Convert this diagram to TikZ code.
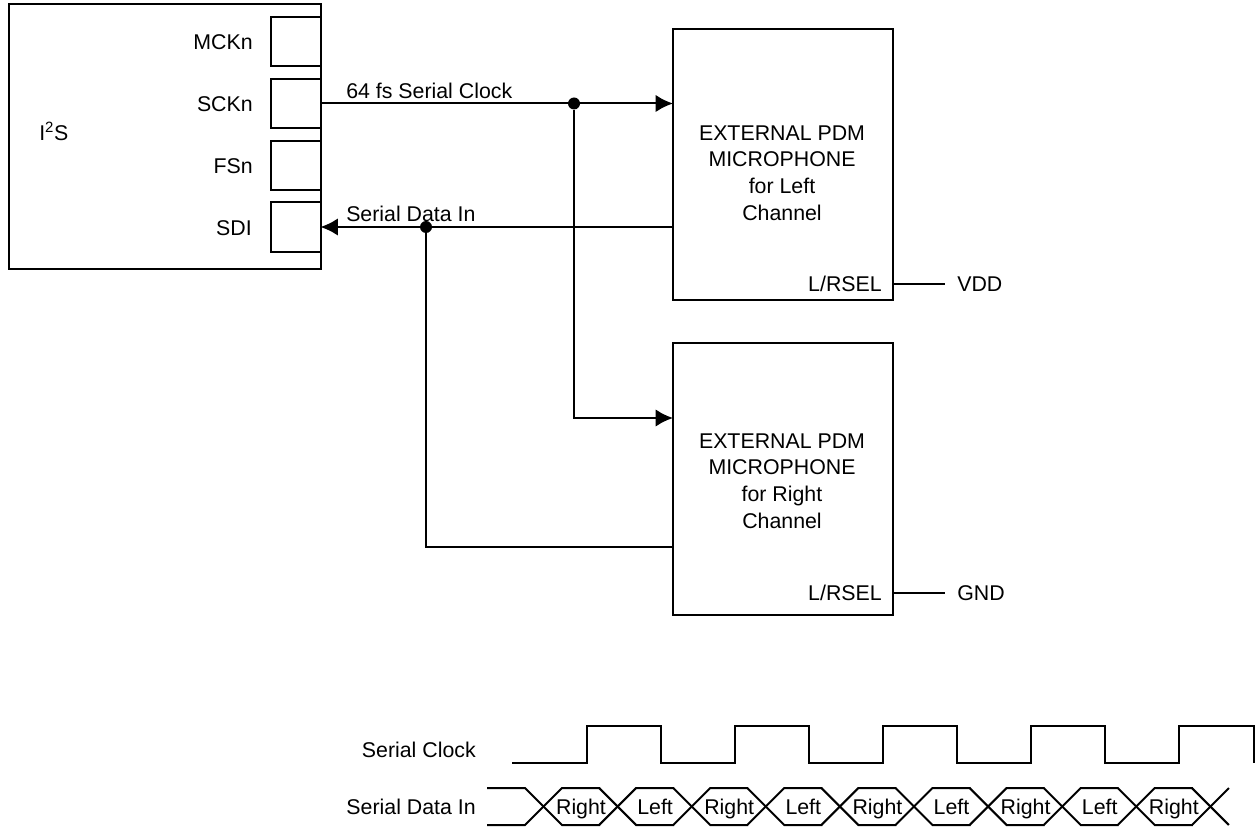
\documentclass[tikz,border=0pt]{standalone}
\usepackage{fontspec}
\setmainfont{Liberation Sans}
\usetikzlibrary{arrows.meta,positioning}

\begin{document}
\begin{tikzpicture}[
  x=0.75pt, y=-0.75pt,
  every node/.style={font=\fontsize{16}{20}\selectfont},
  lbl/.style={inner sep=0pt, text height=11.5pt, text depth=0pt},
  blk/.style={draw, line width=1.5pt, inner sep=0pt, outer sep=0pt},
  port/.style={blk, minimum width=37.5pt, minimum height=37pt},
  micbox/.style={blk, align=center, minimum width=165pt, minimum height=203.5pt},
  wire/.style={line width=1.5pt},
  edg/.style={wire, -{Latex[length=13pt, width=13pt]}},
  jdot/.style={circle, fill=black, minimum size=9pt, inner sep=0pt},
  wave/.style={line width=1.5pt, line join=miter}
]
\useasboundingbox (0,0) rectangle (1257,827);
\node[blk, minimum width=234pt, minimum height=198.75pt] (I2S) at (164.5,137) {};
\node[lbl, anchor=west] (I2Slbl) at (39,133) {I\textsuperscript{2}S};
\node[port] (MCK) at (295.5,41.5) {};
\node[port] (SCK) at (295.5,103.5) {};
\node[port] (FS) at (295.5,165.5) {};
\node[port] (SDI) at (295.5,227) {};
\node[lbl, anchor=east] (MCKlbl) at (253,42) {MCKn};
\node[lbl, anchor=east] (SCKlbl) at (253,104) {SCKn};
\node[lbl, anchor=east] (FSlbl) at (253,166) {FSn};
\node[lbl, anchor=east] (SDIlbl) at (252,228) {SDI};
\node[micbox] (MicL) at (783,164.5) {};
\node[micbox] (MicR) at (783,479) {};
\node[inner sep=0pt, align=center] (MicLlbl) at (782,173) {EXTERNAL PDM\\MICROPHONE\\for Left\\Channel};
\node[inner sep=0pt, align=center] (MicRlbl) at (782,481) {EXTERNAL PDM\\MICROPHONE\\for Right\\Channel};
\node[lbl, anchor=east] (SelL) at (882,284) {L/RSEL};
\node[lbl, anchor=east] (SelR) at (882,593) {L/RSEL};
\node[lbl, anchor=west] (VDD) at (957,284) {VDD};
\node[lbl, anchor=west] (GND) at (957,593) {GND};
\node[lbl, anchor=west] (ClkLbl) at (346,91) {64 fs Serial Clock};
\node[lbl, anchor=west] (DataLbl) at (346,214) {Serial Data In};
\node[jdot] (ClkDot) at (574,103.5) {};
\node[jdot] (DataDot) at (426,227) {};
\coordinate (ClkIn) at (MicR.west |- 0,418);
\coordinate (DataOut) at (MicR.west |- 0,547);
\draw[edg] (SCK.east) -- (SCK.east -| MicL.west);
\draw[edg] (SDI.east -| MicL.west) -- (SDI.east);
\draw[edg] (ClkDot) |- (ClkIn);
\draw[wire] (DataDot) |- (DataOut);
\draw[wire] (MicL.east |- SelL) -- (945,284);
\draw[wire] (MicR.east |- SelR) -- (945,593);
% timing
\node[lbl, anchor=east] (ClkName) at (476,750) {Serial Clock};
\node[lbl, anchor=east] (DataName) at (476,807) {Serial Data In};
\draw[wave] (512,763) -- (586.5,763)
  \foreach \xa in {0,...,3} {
    -- ++(0,-37) -- ++(74.2,0) -- ++(0,37) -- ++(74,0)
  }
  -- ++(0,-37) -- ++(74.2,0) -- ++(0,37);
\draw[wave] (487,788) -- (525,788) -- (562,825) -- (600,825);
\draw[wave] (487,825) -- (525,825) -- (562,788) -- (600,788);
\foreach \xa in {1,...,8} {
  \draw[wave] (525+74.1*\xa,788) -- (562+74.1*\xa,825) -- (600+74.1*\xa,825);
  \draw[wave] (525+74.1*\xa,825) -- (562+74.1*\xa,788) -- (600+74.1*\xa,788);
}
\draw[wave] (525+74.1*9,788) -- (562+74.1*9,825);
\draw[wave] (525+74.1*9,825) -- (562+74.1*9,788);
\foreach \xa/\txt in {0/Right,1/Left,2/Right,3/Left,4/Right,5/Left,6/Right,7/Left,8/Right} {
  \node[lbl] (Bit\xa) at (581+74.1*\xa,807) {\txt};
}
\end{tikzpicture}
\end{document}
